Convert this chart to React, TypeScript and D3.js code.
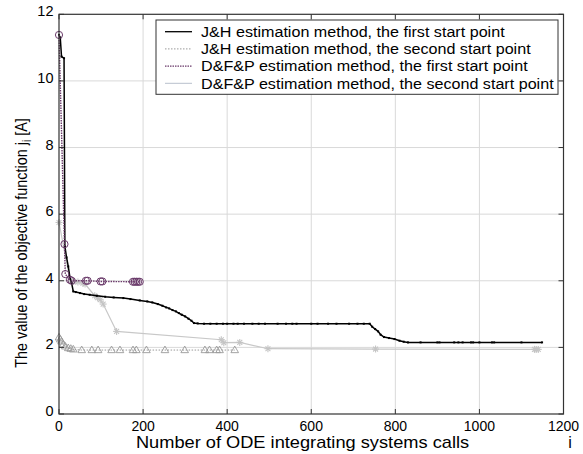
import React from "react";
import * as d3 from "d3";

// J&H estimation method, the first start point
const jh1X = [0, 3, 6, 12, 14, 18, 22, 26, 30, 34, 40, 50, 60, 73, 90, 110, 130, 153, 170, 192, 210, 222, 235, 246, 255, 262, 270, 278, 285, 292, 300, 308, 315, 321, 330, 345, 360, 375, 390, 400, 415, 425, 440, 460, 475, 490, 520, 540, 555, 565, 600, 615, 640, 660, 690, 710, 725, 739, 745, 752, 759, 765, 773, 785, 798, 810, 820, 830, 860, 900, 905, 940, 950, 960, 980, 985, 1000, 1030, 1035, 1100, 1149];
const jh1Y = [11.38, 11.3, 10.73, 10.68, 5.03, 4.7, 4.43, 4.1, 3.93, 3.68, 3.66, 3.63, 3.6, 3.58, 3.55, 3.52, 3.5, 3.48, 3.45, 3.41, 3.38, 3.35, 3.3, 3.25, 3.2, 3.17, 3.12, 3.08, 3.03, 2.98, 2.93, 2.86, 2.8, 2.73, 2.72, 2.71, 2.71, 2.71, 2.71, 2.71, 2.71, 2.71, 2.71, 2.71, 2.71, 2.71, 2.71, 2.71, 2.71, 2.71, 2.71, 2.71, 2.71, 2.71, 2.71, 2.71, 2.71, 2.71, 2.62, 2.55, 2.48, 2.38, 2.31, 2.28, 2.25, 2.2, 2.17, 2.15, 2.15, 2.15, 2.15, 2.15, 2.15, 2.15, 2.15, 2.15, 2.15, 2.15, 2.15, 2.15, 2.15];

// J&H estimation method, the second start point
const jh2X = [0, 3, 6, 10, 15, 22, 28, 34, 54, 78, 93, 125, 145, 176, 184, 208, 252, 299, 347, 358, 375, 382, 418];
const jh2Y = [2.3, 2.24, 2.18, 2.09, 2.03, 1.98, 1.96, 1.94, 1.92, 1.92, 1.92, 1.92, 1.92, 1.92, 1.92, 1.92, 1.92, 1.92, 1.92, 1.92, 1.92, 1.92, 1.92];

// D&F&P estimation method, the first start point
const dfp1X = [0, 13, 15, 26, 30, 64, 68, 99, 103, 176, 180, 184, 188, 192];
const dfp1Y = [11.38, 5.1, 4.2, 4.03, 4.0, 4.0, 4.0, 3.98, 3.98, 3.97, 3.97, 3.97, 3.97, 3.97];

// D&F&P estimation method, the second start point
const dfp2X = [0, 26, 35, 45, 57, 62, 85, 92, 98, 105, 137, 386, 392, 430, 497, 753, 1131, 1135, 1140];
const dfp2Y = [5.75, 4.02, 3.98, 3.96, 3.93, 3.9, 3.55, 3.49, 3.43, 3.3, 2.48, 2.23, 2.14, 2.15, 1.96, 1.95, 1.94, 1.94, 1.94];

const xTicks = [0, 200, 400, 600, 800, 1000, 1200];
const yTicks = [0, 2, 4, 6, 8, 10, 12];

const legendLabels = [
  "J&H estimation method, the first start point",
  "J&H estimation method, the second start point",
  "D&F&P estimation method, the first start point",
  "D&F&P estimation method, the second start point",
];

const FONT = "'Liberation Sans', Arial, sans-serif";

export default function App() {
  const W = 583, H = 454;
  const left = 59, right = 563.5, top = 14.3, bottom = 414;
  const x = d3.scaleLinear().domain([0, 1200]).range([left, right]);
  const y = d3.scaleLinear().domain([0, 12]).range([bottom, top]);
  const line = d3.line<[number, number]>().x((d) => x(d[0])).y((d) => y(d[1]));
  const zip = (a: number[], b: number[]) => a.map((v, i) => [v, b[i]] as [number, number]);

  const jh1 = zip(jh1X, jh1Y);
  const jh2 = zip(jh2X, jh2Y);
  const dfp1 = zip(dfp1X, dfp1Y);
  const dfp2 = zip(dfp2X, dfp2Y);

  const purple = "#6a3a6a";
  const star = (cx: number, cy: number, k: number) => {
    const r = 3.5;
    return (
      <g key={k} stroke="#c4c4c4" strokeWidth={1.1}>
        <line x1={cx - r} y1={cy} x2={cx + r} y2={cy} />
        <line x1={cx} y1={cy - r} x2={cx} y2={cy + r} />
        <line x1={cx - r * 0.7} y1={cy - r * 0.7} x2={cx + r * 0.7} y2={cy + r * 0.7} />
        <line x1={cx - r * 0.7} y1={cy + r * 0.7} x2={cx + r * 0.7} y2={cy - r * 0.7} />
      </g>
    );
  };

  return (
    <svg width={W} height={H} style={{ display: "block", position: "absolute", left: 0, top: 0 }} fontFamily={FONT}>
      <rect x={0} y={0} width={W} height={H} fill="#fff" />
      {/* grid */}
      {xTicks.slice(1, -1).map((t) => (
        <line key={"gx" + t} x1={x(t)} x2={x(t)} y1={top} y2={bottom} stroke="#d9d9d9" strokeWidth={1} />
      ))}
      {yTicks.slice(1, -1).map((t) => (
        <line key={"gy" + t} x1={left} x2={right} y1={y(t)} y2={y(t)} stroke="#d9d9d9" strokeWidth={1} />
      ))}

      {/* D&F&P second */}
      <path d={line(dfp2) || ""} fill="none" stroke="#c8c8c8" strokeWidth={1.2} />
      {dfp2.map((d, i) => star(x(d[0]), y(d[1]), i))}

      {/* J&H second */}
      <path d={line(jh2) || ""} fill="none" stroke="#9a9a9a" strokeWidth={1} strokeDasharray="1.5,1.5" />
      {jh2.map((d, i) => (
        <path key={"t" + i} transform={`translate(${x(d[0])},${y(d[1])})`} d="M0,-4 L3.8,2.6 L-3.8,2.6 Z" fill="none" stroke="#9a9a9a" strokeWidth={0.9} />
      ))}

      {/* J&H first */}
      <path d={line(jh1) || ""} fill="none" stroke="#000" strokeWidth={1.5} />
      {jh1.map((d, i) => (
        <rect key={"b" + i} x={x(d[0]) - 1} y={y(d[1]) - 1} width={2} height={2} fill="#000" />
      ))}

      {/* D&F&P first */}
      <path d={line(dfp1) || ""} fill="none" stroke={purple} strokeWidth={1.4} strokeDasharray="1.5,1" />
      {dfp1.map((d, i) => (
        <circle key={"c" + i} cx={x(d[0])} cy={y(d[1])} r={3.6} fill="none" stroke={purple} strokeWidth={1} />
      ))}

      {/* box */}
      <rect x={left} y={top} width={right - left} height={bottom - top} fill="none" stroke="#333" strokeWidth={1.2} />
      {/* ticks */}
      {xTicks.map((t) => (
        <g key={"xt" + t}>
          <line x1={x(t)} x2={x(t)} y1={bottom} y2={bottom - 5} stroke="#333" />
          <line x1={x(t)} x2={x(t)} y1={top} y2={top + 5} stroke="#333" />
          <text x={x(t)} y={430.5} fontSize={14} textAnchor="middle" fill="#000">{t}</text>
        </g>
      ))}
      {yTicks.map((t) => (
        <g key={"yt" + t}>
          <line x1={left} x2={left + 5} y1={y(t)} y2={y(t)} stroke="#333" />
          <line x1={right} x2={right - 5} y1={y(t)} y2={y(t)} stroke="#333" />
          <text x={53.5} y={y(t) + 2} fontSize={14.5} textAnchor="end" fill="#000">{t}</text>
        </g>
      ))}

      {/* axis labels */}
      <text transform="translate(302.5,447.5) scale(1.14,1)" fontSize={16} textAnchor="middle" fill="#000">Number of ODE integrating systems calls</text>
      <text x={570} y={447.5} fontSize={16} textAnchor="middle" fill="#000">i</text>
      <text transform="translate(27,243) rotate(-90) scale(0.93,1.12)" fontSize={15.5} textAnchor="middle" fill="#000">
        The value of the objective function  j
        <tspan fontSize={11} dy={4}>i</tspan>
        <tspan dy={-4}> [A]</tspan>
      </text>

      {/* legend */}
      <rect x={156} y={20} width={402} height={74.3} fill="#fff" stroke="#333" strokeWidth={1} />
      {legendLabels.map((lab, i) => {
        const ly = 31.7 + i * 17.2;
        const styles = [
          { stroke: "#000", dash: undefined, w: 1.3 },
          { stroke: "#9a9a9a", dash: "1.5,1.5", w: 1 },
          { stroke: purple, dash: "1.5,1", w: 1.4 },
          { stroke: "#b8c0cc", dash: undefined, w: 1 },
        ][i];
        return (
          <g key={"lg" + i}>
            <line x1={165} x2={192} y1={ly} y2={ly} stroke={styles.stroke} strokeWidth={styles.w} strokeDasharray={styles.dash} />
            <text transform={`translate(201,${ly + 5.2}) scale(1.075,1)`} fontSize={15} fill="#000">{lab}</text>
          </g>
        );
      })}
    </svg>
  );
}
